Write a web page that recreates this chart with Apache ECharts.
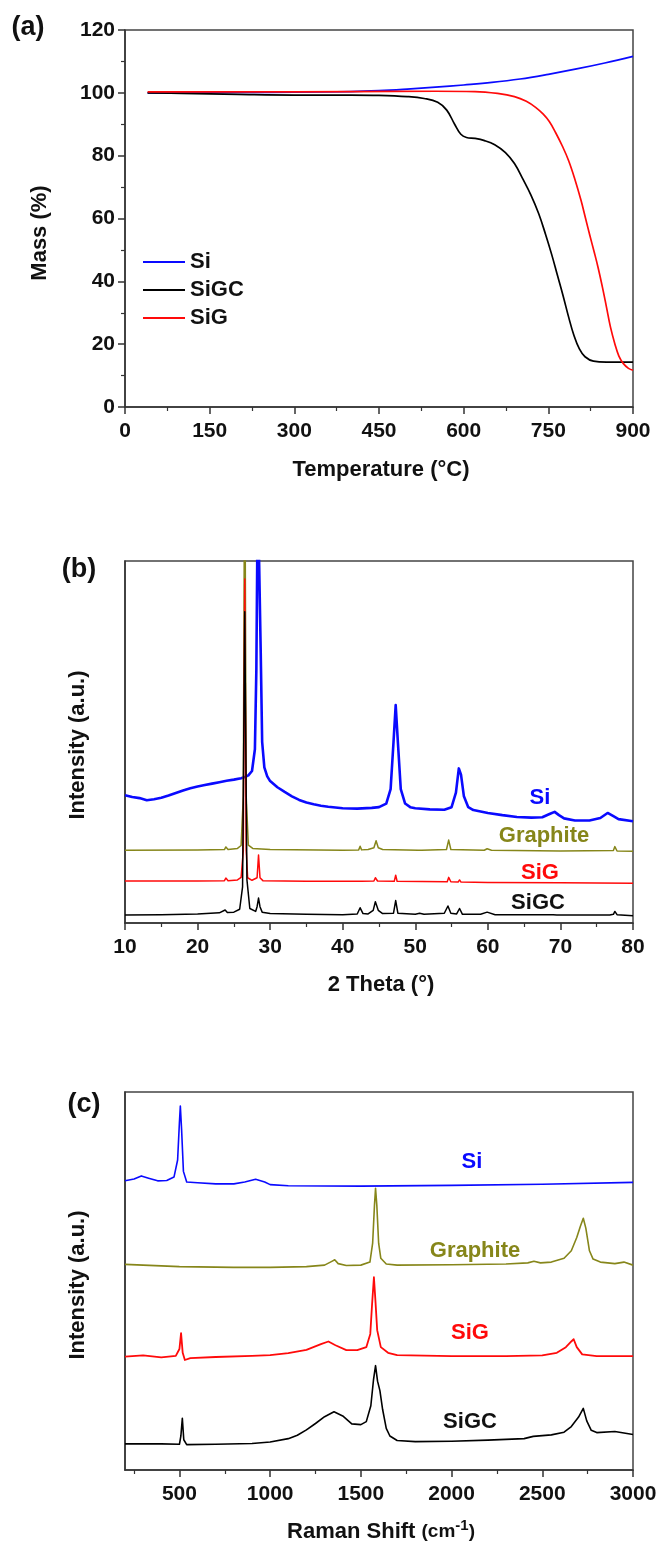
<!DOCTYPE html>
<html><head><meta charset="utf-8">
<script src="https://cdn.jsdelivr.net/npm/echarts@6/dist/echarts.min.js"></script>
<style>html,body{margin:0;padding:0;background:#fff}#c{width:661px;height:1542px}</style>
</head><body><div id="c"></div>
<script>
// ---------- (a) TGA ----------
var tgaTicks = [0,150,300,450,600,750,900];
var tgaSi = [[40,100],[100,100],[200,100.1],[300,100.2],[400,100.4],[450,100.7],[500,101.2],[550,101.8],[600,102.5],[650,103.3],[700,104.4],[750,105.9],[800,107.6],[850,109.5],[900,111.6]];
var tgaSiGC = [[40,100],[100,99.8],[200,99.5],[300,99.3],[400,99.3],[450,99.2],[500,98.8],[530,98.2],[554,97],[570,94.5],[584,90],[595,86.8],[605,85.8],[620,85.5],[637,84.8],[655,83.5],[674,81],[690,77.5],[705,72.5],[719,67.5],[733,61.5],[745,55],[756,48.5],[766,42],[776,35.5],[786,28.6],[795,23],[805,18.5],[815,16],[830,14.6],[853,14.3],[900,14.3]];
var tgaSiG = [[40,100.3],[200,100.3],[400,100.4],[550,100.5],[620,100.4],[660,99.8],[690,98.8],[711,97.3],[728,95.3],[741,93.2],[752,90.8],[763,87.3],[775,83],[786,78.4],[797,72.5],[808,65.7],[816,60],[823,55],[831,49.5],[838,44.5],[846,38],[853,31.8],[860,25.5],[868,20],[875,16.2],[883,13.8],[892,12.3],[900,11.7]];

// ---------- (b) XRD ----------
var xrdSi = [[10,35.3],[11,34.8],[12,34.5],[13,33.9],[14,34.2],[15,34.6],[16,35.2],[17,35.9],[18,36.6],[19,37.2],[20,37.7],[21,38.1],[22,38.5],[23,38.9],[24,39.3],[25,39.6],[26,40.0],[26.5,40.3],[27,40.8],[27.5,42],[27.9,48],[28.1,70],[28.3,120],[28.5,120],[28.7,75],[28.9,50],[29.2,43],[29.6,40.5],[30,39.2],[31,37.5],[32,36.2],[33,35],[34,34],[35,33.3],[36,32.8],[37,32.4],[38,32.1],[39,31.9],[40,31.7],[42,31.6],[44,31.8],[45,32.0],[46,33.0],[46.6,37],[47.0,50],[47.3,60.2],[47.6,50],[48.0,37],[48.6,33],[49.3,32.0],[50,31.7],[52,31.4],[54,31.3],[55,32],[55.6,36],[56.0,42.7],[56.3,41],[56.7,35],[57.3,32],[58,31.2],[60,30.4],[62,29.8],[64,29.3],[66,29.1],[67.5,29.2],[68.5,30.1],[69.2,30.7],[69.8,29.8],[70.5,28.9],[72,28.3],[74,28.3],[75.5,29.0],[76.5,30.4],[77.3,29.5],[78,28.7],[80,28.1]];
var xrdGraphite = [[10,20.1],[20,20.2],[23.7,20.3],[23.9,21.0],[24.2,20.3],[25.5,20.6],[26.0,21.4],[26.3,35],[26.5,140],[26.7,35],[27.0,21.5],[27.6,20.6],[30,20.3],[40,20.1],[42.2,20.2],[42.4,21.2],[42.6,20.2],[43.5,20.3],[44.3,20.8],[44.6,22.7],[44.9,20.8],[45.5,20.3],[50.4,20.1],[50.6,20.5],[50.9,20.1],[54.3,20.3],[54.6,22.9],[54.9,20.3],[59.5,20.1],[59.9,20.5],[60.5,20.1],[70,19.9],[77.3,20.0],[77.5,21.1],[77.8,19.9],[80,19.8]];
var xrdSiG = [[10,11.6],[20,11.6],[23.7,11.7],[23.9,12.4],[24.2,11.7],[25.5,11.9],[26.0,12.6],[26.3,20],[26.5,95],[26.7,20],[26.9,12.5],[27.5,11.8],[28.2,12.5],[28.4,18.8],[28.6,12.5],[29,11.7],[35,11.5],[42.2,11.5],[42.4,12.0],[42.6,11.5],[44.3,11.6],[44.5,12.5],[44.8,11.6],[47.1,11.5],[47.3,13.2],[47.5,11.5],[54.4,11.4],[54.6,12.6],[54.9,11.4],[55.9,11.3],[56.1,11.9],[56.3,11.3],[60,11.2],[70,11.1],[80,11.0]];
var xrdSiGC = [[10,2.2],[15,2.3],[20,2.5],[23,2.8],[23.8,3.6],[24.1,2.9],[25,3.0],[25.8,3.8],[26.2,10],[26.4,60],[26.5,86],[26.6,60],[26.8,12],[27.2,4],[28.0,3.2],[28.2,4.5],[28.4,6.9],[28.6,4.5],[28.9,3.0],[30,2.6],[35,2.4],[40,2.3],[42.0,2.5],[42.4,4.2],[42.8,2.6],[43.5,2.5],[44.2,3.5],[44.5,5.9],[44.9,3.5],[45.5,2.6],[47.0,2.7],[47.3,6.2],[47.6,2.7],[50,2.4],[50.6,2.7],[51.2,2.4],[54.0,2.7],[54.5,4.7],[54.9,2.7],[55.7,2.5],[56.1,4.0],[56.5,2.4],[59.0,2.4],[59.9,3.0],[61,2.3],[69,2.3],[69.2,2.7],[69.5,2.2],[76.3,2.2],[76.5,2.6],[76.8,2.2],[77.3,2.4],[77.5,3.2],[77.8,2.3],[80,2.0]];

// ---------- (c) Raman ----------
var ramanTicks = [500,1000,1500,2000,2500,3000];
var ramanMinorTicks = [250,750,1250,1750,2250,2750];
var ramanSi = [[200,76.5],[250,77.0],[290,77.8],[330,77.2],[380,76.5],[430,76.6],[470,77.5],[490,82],[500,92],[505,96.3],[512,90],[522,79],[540,76.2],[600,76.0],[700,75.7],[800,75.7],[860,76.2],[920,76.9],[970,76.2],[1000,75.5],[1100,75.2],[1500,75.1],[2000,75.3],[2500,75.6],[3000,76.1]];
var ramanGraphite = [[200,54.4],[300,54.2],[500,53.8],[800,53.6],[1000,53.6],[1200,53.8],[1300,54.2],[1340,55.2],[1356,55.6],[1375,54.6],[1420,54.1],[1500,54.2],[1550,55],[1565,60],[1575,70],[1581,74.5],[1588,70],[1598,60],[1610,56],[1640,54.5],[1700,54.2],[2000,54.3],[2300,54.5],[2420,54.8],[2454,55.2],[2490,54.8],[2550,55],[2620,56],[2660,58],[2690,61.5],[2710,64.5],[2726,66.6],[2740,64],[2760,58],[2780,55.8],[2820,55],[2900,54.6],[2950,55],[3000,54.2]];
var ramanSiG = [[200,30],[300,30.3],[400,29.8],[480,30.2],[500,32],[509,36.2],[518,31],[530,29.1],[560,29.6],[700,29.9],[900,30.2],[1000,30.4],[1100,30.9],[1200,31.8],[1280,33.3],[1321,34.0],[1360,33],[1420,31.7],[1480,31.7],[1530,32.5],[1552,36],[1562,44],[1572,51],[1580,45],[1590,37],[1610,32.5],[1650,31],[1700,30.4],[2000,30.1],[2300,30.1],[2500,30.3],[2580,31],[2630,32.5],[2660,34],[2673,34.6],[2690,32.5],[2720,30.6],[2800,30.1],[3000,30.1]];
var ramanSiGC = [[200,6.9],[400,6.9],[500,6.8],[508,9],[516,13.7],[524,8],[540,6.7],[700,6.8],[900,7.0],[1000,7.4],[1100,8.3],[1150,9.2],[1200,10.6],[1250,12.3],[1300,14.1],[1352,15.4],[1400,14.3],[1450,12.2],[1500,12.0],[1530,12.8],[1555,17],[1570,24],[1581,27.6],[1592,23.5],[1605,21],[1620,16],[1640,11],[1660,9],[1700,7.8],[1800,7.5],[2000,7.6],[2200,7.9],[2400,8.3],[2450,8.9],[2550,9.3],[2620,10],[2660,11.5],[2700,14],[2726,16.3],[2745,13],[2770,10.5],[2800,9.9],[2900,10.2],[3000,9.4]];

var BLUE = '#0a0aff', RED = '#ff0a0a', BLACK = '#000000', OLIVE = '#86861a';
var FONT = '"Liberation Sans", Arial, sans-serif';
var AX = '#333333';
function plain(v) { return String(v); }

var chart = echarts.init(document.getElementById('c'), null, {renderer: 'canvas'});

function xAxisBase(grid, min, max, interval) {
  return {
    type: 'value', gridIndex: grid, min: min, max: max, interval: interval,
    axisLine: {show: true, onZero: false, lineStyle: {color: AX, width: 1.5}},
    axisTick: {show: true, length: 7, lineStyle: {color: AX, width: 1.5}},
    minorTick: {show: true, splitNumber: 2, length: 4, lineStyle: {color: AX, width: 1.2}},
    axisLabel: {show: true, margin: 14, fontSize: 21, fontWeight: 'bold', color: '#111', fontFamily: FONT, formatter: plain},
    splitLine: {show: false}, minorSplitLine: {show: false}
  };
}

var xAxes = [
  xAxisBase(0, 0, 900, 150),
  xAxisBase(1, 10, 80, 10),
  (function () {
    var a = xAxisBase(2, 200, 3000, 500);
    delete a.interval;
    a.minorTick = {show: false};
    a.axisTick.customValues = ramanTicks;
    a.axisLabel.customValues = ramanTicks;
    return a;
  })(),
  {
    type: 'value', gridIndex: 2, min: 200, max: 3000, position: 'bottom',
    axisLine: {show: false},
    axisTick: {show: true, length: 4, customValues: ramanMinorTicks, lineStyle: {color: AX, width: 1.2}},
    axisLabel: {show: false}, splitLine: {show: false}
  }
];

var yAxes = [
  {
    type: 'value', gridIndex: 0, min: 0, max: 120, interval: 20,
    axisLine: {show: true, lineStyle: {color: AX, width: 1.5}},
    axisTick: {show: true, length: 7, lineStyle: {color: AX, width: 1.5}},
    minorTick: {show: true, splitNumber: 2, length: 4, lineStyle: {color: AX, width: 1.2}},
    axisLabel: {show: true, margin: 10, fontSize: 21, fontWeight: 'bold', color: '#111', fontFamily: FONT, formatter: plain},
    splitLine: {show: false}
  },
  {
    type: 'value', gridIndex: 1, min: 0, max: 100,
    axisLine: {show: true, lineStyle: {color: AX, width: 1.5}},
    axisTick: {show: false}, axisLabel: {show: false}, splitLine: {show: false}
  },
  {
    type: 'value', gridIndex: 2, min: 0, max: 100,
    axisLine: {show: true, lineStyle: {color: AX, width: 1.5}},
    axisTick: {show: false}, axisLabel: {show: false}, splitLine: {show: false}
  }
];

function line(name, data, color, xi, yi, width, smooth) {
  var s = {
    name: name, type: 'line', xAxisIndex: xi, yAxisIndex: yi, data: data,
    symbol: 'none', smooth: smooth || false, clip: true,
    lineStyle: {color: color, width: width, join: 'round'}, itemStyle: {color: color},
    animation: false, emphasis: {disabled: true}
  };
  return s;
}

function txt(text, x, y, color, size, rot) {
  return {
    type: 'text', x: x, y: y, rotation: rot || 0, silent: true,
    style: {text: text, x: 0, y: 0, fill: color, font: 'bold ' + size + 'px ' + FONT,
            textAlign: 'center', textVerticalAlign: 'middle'}
  };
}

var option = {
  animation: false,
  backgroundColor: '#ffffff',
  grid: [
    {left: 125, top: 30, width: 508, height: 377, show: true, borderColor: '#444', borderWidth: 1.5, backgroundColor: 'transparent'},
    {left: 125, top: 561, width: 508, height: 362, show: true, borderColor: '#444', borderWidth: 1.5, backgroundColor: 'transparent'},
    {left: 125, top: 1092, width: 508, height: 378, show: true, borderColor: '#444', borderWidth: 1.5, backgroundColor: 'transparent'}
  ],
  legend: {
    data: ['Si', 'SiGC', 'SiG'], orient: 'vertical', left: 138, top: 246,
    icon: 'rect', itemWidth: 42, itemHeight: 2, itemGap: 6, selectedMode: false,
    textStyle: {fontSize: 22, fontWeight: 'bold', color: '#111', fontFamily: FONT, padding: [0, 0, 0, 0]}
  },
  xAxis: xAxes,
  yAxis: yAxes,
  series: [
    line('Si', tgaSi, BLUE, 0, 0, 1.7, 0.4),
    line('SiGC', tgaSiGC, BLACK, 0, 0, 1.7, 0.4),
    line('SiG', tgaSiG, RED, 0, 0, 1.7, 0.4),
    line('Si XRD', xrdSi, BLUE, 1, 1, 2.6),
    line('Graphite XRD', xrdGraphite, OLIVE, 1, 1, 1.5),
    line('SiG XRD', xrdSiG, RED, 1, 1, 1.5),
    line('SiGC XRD', xrdSiGC, BLACK, 1, 1, 1.5),
    line('Si Raman', ramanSi, BLUE, 2, 2, 1.6),
    line('Graphite Raman', ramanGraphite, OLIVE, 2, 2, 1.6),
    line('SiG Raman', ramanSiG, RED, 2, 2, 1.8),
    line('SiGC Raman', ramanSiGC, BLACK, 2, 2, 1.6)
  ],
  graphic: [
    txt('(a)', 28, 28, '#111', 27),
    txt('(b)', 79, 570, '#111', 27),
    txt('(c)', 84, 1105, '#111', 27),
    txt('Mass (%)', 40, 233, '#111', 22, Math.PI / 2),
    txt('Intensity (a.u.)', 78, 745, '#111', 22, Math.PI / 2),
    txt('Intensity (a.u.)', 78, 1285, '#111', 22, Math.PI / 2),
    txt('Temperature (°C)', 381, 470, '#111', 22),
    txt('2 Theta (°)', 381, 985, '#111', 22),
    {
      type: 'text', x: 381, y: 1532, silent: true,
      style: {
        text: '{a|Raman Shift }{b|(cm}{c|-1}{b|)}', x: 0, y: 0, fill: '#111',
        textAlign: 'center', textVerticalAlign: 'middle',
        rich: {
          a: {font: 'bold 22px ' + FONT, fill: '#111', lineHeight: 28},
          b: {font: 'bold 19px ' + FONT, fill: '#111', lineHeight: 28},
          c: {font: 'bold 15px ' + FONT, fill: '#111', lineHeight: 28, verticalAlign: 'top', padding: [0, 0, 8, 0]}
        }
      }
    },
    txt('Si', 540, 798, BLUE, 22),
    txt('Graphite', 544, 836, OLIVE, 22),
    txt('SiG', 540, 873, RED, 22),
    txt('SiGC', 538, 903, '#111', 22),
    txt('Si', 472, 1162, BLUE, 22),
    txt('Graphite', 475, 1251, OLIVE, 22),
    txt('SiG', 470, 1333, RED, 22),
    txt('SiGC', 470, 1422, '#111', 22)
  ]
};
chart.setOption(option);
</script>
</body></html>
